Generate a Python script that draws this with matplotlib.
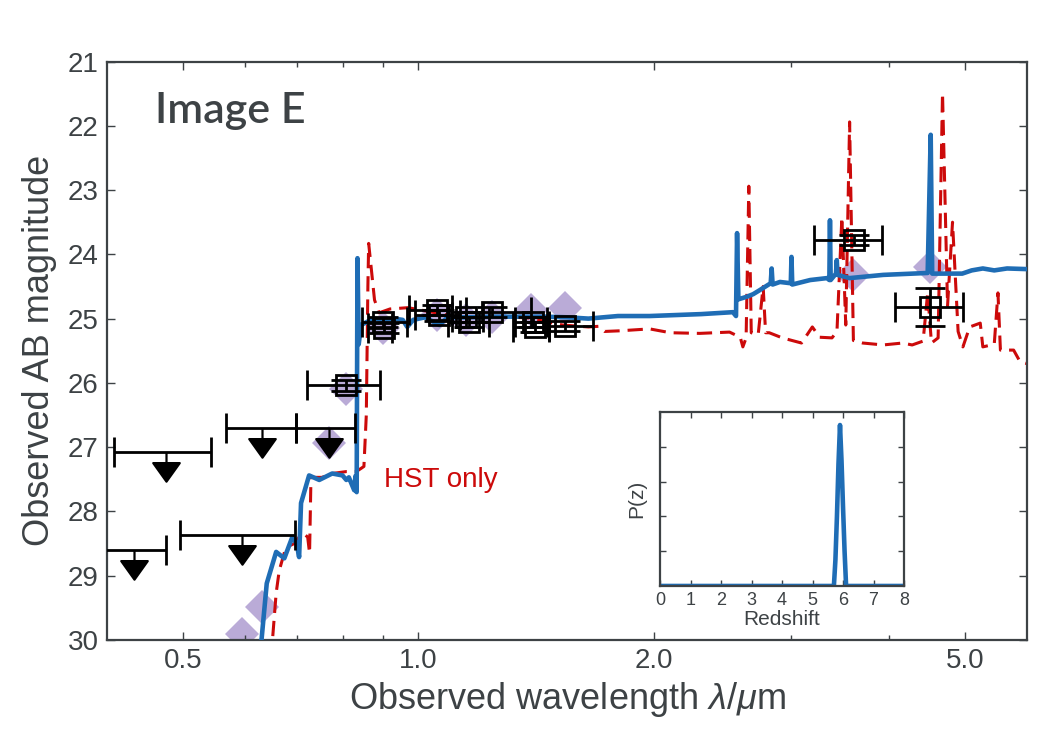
import matplotlib
matplotlib.use("Agg")
import matplotlib.pyplot as plt
from matplotlib.path import Path
from matplotlib.ticker import FixedLocator, FixedFormatter, NullFormatter

# SED of image E: photometry, upper limits, best-fit templates and P(z) inset

# upper limits (1 sigma), wavelength band edges in micron
ul_wave = [0.476, 0.433, 0.595, 0.631, 0.769]
ul_lo = [0.408, 0.390, 0.496, 0.568, 0.698]
ul_hi = [0.543, 0.476, 0.696, 0.698, 0.830]
ul_mag = [27.07, 28.60, 28.36, 26.70, 26.70]

# detections
det_wave = [0.809, 0.900, 0.905, 1.057, 1.062, 1.152, 1.160, 1.244, 1.400, 1.410, 1.538, 3.61, 4.51]
det_mag = [26.04, 25.05, 25.15, 24.87, 24.95, 24.97, 25.05, 24.90, 25.05, 25.13, 25.12, 23.78, 24.82]
det_lo = [0.721, 0.848, 0.862, 0.974, 0.990, 1.105, 1.090, 1.152, 1.330, 1.320, 1.470, 3.21, 4.07]
det_hi = [0.894, 0.968, 0.926, 1.105, 1.130, 1.210, 1.230, 1.395, 1.460, 1.470, 1.670, 3.92, 4.97]
det_err = [0.08, 0.08, 0.08, 0.08, 0.08, 0.08, 0.08, 0.08, 0.08, 0.08, 0.08, 0.08, 0.30]

# model magnitudes in each band
mod_wave = [0.595, 0.631, 0.769, 0.809, 0.900, 1.057, 1.152, 1.244, 1.395, 1.538, 3.596, 4.51]
mod_mag = [29.90, 29.49, 26.94, 26.10, 25.15, 24.95, 25.02, 24.98, 24.87, 24.84, 24.32, 24.20]

# best-fit template (all data)
blue_wave = [0.628, 0.640, 0.658, 0.674, 0.690, 0.699, 0.704, 0.708, 0.725, 0.747, 0.776,
             0.800, 0.809, 0.815, 0.828, 0.831, 0.834, 0.836, 0.839, 0.845, 0.860, 0.880,
             0.900, 0.930, 0.955, 0.968, 0.985, 1.020, 1.064, 1.090, 1.150, 1.250, 1.350,
             1.450, 1.550, 1.650, 1.800, 1.976, 2.300, 2.525, 2.548, 2.556, 2.566, 2.630,
             2.680, 2.730, 2.822, 2.830, 2.838, 2.900, 2.994, 3.000, 3.007, 3.170, 3.330,
             3.354, 3.360, 3.367, 3.420, 3.428, 3.436, 3.560, 3.930, 4.480, 4.520, 4.540,
             4.780, 4.960, 5.100, 5.270, 5.450, 5.660, 6.000]
blue_mag = [30.20, 29.12, 28.63, 28.73, 28.40, 28.50, 28.71, 27.87, 27.44, 27.51, 27.41,
            27.44, 27.51, 27.47, 27.67, 27.45, 27.70, 24.06, 25.40, 25.10, 25.05, 25.00,
            25.03, 25.00, 25.02, 25.13, 25.02, 24.98, 25.10, 24.98, 24.98, 24.97, 24.97,
            24.97, 24.98, 25.00, 24.96, 24.96, 24.93, 24.90, 24.96, 23.67, 24.70, 24.66,
            24.62, 24.56, 24.45, 24.22, 24.47, 24.43, 24.45, 24.04, 24.47, 24.40, 24.37,
            24.40, 23.47, 24.40, 24.30, 24.09, 24.32, 24.37, 24.32, 24.29, 22.14, 24.30,
            24.30, 24.30, 24.25, 24.22, 24.25, 24.22, 24.23]

# best-fit template (HST only)
red_wave = [0.648, 0.658, 0.664, 0.677, 0.694, 0.704, 0.713, 0.722, 0.726, 0.729, 0.753,
            0.776, 0.809, 0.833, 0.845, 0.852, 0.858, 0.862, 0.864, 0.872, 0.879, 0.891,
            0.920, 0.970, 1.064, 1.140, 1.258, 1.387, 1.460, 1.530, 1.650, 1.700, 1.730,
            1.810, 1.976, 2.100, 2.290, 2.500, 2.580, 2.600, 2.625, 2.646, 2.665, 2.720,
            2.760, 2.780, 2.810, 2.920, 3.090, 3.190, 3.260, 3.380, 3.430, 3.480, 3.520,
            3.560, 3.600, 3.700, 3.930, 4.160, 4.280, 4.420, 4.480, 4.530, 4.620, 4.680,
            4.750, 4.820, 4.900, 4.970, 5.070, 5.230, 5.270, 5.450, 5.510, 5.550, 5.770,
            5.880, 6.000]
red_mag = [30.30, 29.27, 28.92, 28.56, 28.50, 28.40, 28.34, 28.40, 28.65, 27.47, 27.47,
           27.41, 27.38, 27.38, 27.33, 27.30, 26.50, 24.50, 23.83, 24.30, 24.71, 24.91,
           24.85, 24.83, 24.92, 24.99, 24.97, 24.99, 25.05, 25.10, 25.13, 25.12, 25.20,
           25.19, 25.16, 25.22, 25.23, 25.21, 25.29, 25.44, 25.30, 22.94, 25.22, 25.25,
           24.50, 25.22, 25.22, 25.30, 25.38, 25.13, 25.29, 25.30, 25.20, 23.42, 25.10,
           21.94, 25.34, 25.38, 25.41, 25.38, 25.41, 25.35, 24.60, 25.38, 25.30, 21.49,
           24.80, 23.50, 25.20, 25.44, 25.13, 25.07, 25.44, 25.40, 24.60, 25.49, 25.49,
           25.67, 25.70]

# photometric redshift probability
z_grid = [0.0, 5.70, 5.75, 5.80, 5.85, 5.90, 5.95, 6.00, 6.05, 6.10, 8.0]
p_z = [0.0, 0.0, 0.15, 0.40, 0.70, 0.925, 0.72, 0.45, 0.20, 0.0, 0.0]

plt.rcParams['font.family'] = ['Liberation Sans', 'DejaVu Sans']
plt.rcParams['mathtext.fontset'] = 'custom'
plt.rcParams['mathtext.it'] = 'Liberation Sans:italic'
plt.rcParams['mathtext.rm'] = 'Liberation Sans'

grey = '#3d4245'
blue = '#1f6db5'
red = '#cc0a0a'

fig = plt.figure(figsize=(10.5, 7.5), dpi=100)
ax = fig.add_axes([0.102, 0.1467, 0.876, 0.7713])

ax.plot(mod_wave, mod_mag, 'D', ms=17, color='#8c74bd', alpha=0.6, mew=0, zorder=1)
ax.plot(red_wave, red_mag, color=red, lw=2.2, dashes=(5, 2.6), zorder=2)
ax.plot(blue_wave, blue_mag, color=blue, lw=3.3, zorder=3)

# upper limit marker: stub going down from the band bar, then a filled triangle
ul_path = Path([(0, 0), (0, -0.8), (-1, -0.8), (1, -0.8), (0, -2.2), (-1, -0.8)],
               [Path.MOVETO, Path.LINETO, Path.MOVETO, Path.LINETO, Path.LINETO, Path.CLOSEPOLY])
ul_xerr = [[w - l for w, l in zip(ul_wave, ul_lo)], [h - w for w, h in zip(ul_wave, ul_hi)]]
ax.errorbar(ul_wave, ul_mag, xerr=ul_xerr, fmt='none', ecolor='k', elinewidth=2,
            capsize=11, capthick=2, zorder=4)
ax.plot(ul_wave, ul_mag, ls='none', marker=ul_path, ms=42, color='k', mec='k', mew=1.6, zorder=4)

det_xerr = [[w - l for w, l in zip(det_wave, det_lo)], [h - w for w, h in zip(det_wave, det_hi)]]
ax.errorbar(det_wave, det_mag, xerr=det_xerr, yerr=det_err, fmt='s', ms=15, mfc='none',
            mec='k', mew=2, ecolor='k', elinewidth=2, capsize=11, capthick=2, zorder=5)

ax.set_xscale('log')
ax.set_xlim(0.4, 6.0)
ax.set_ylim(30, 21)
ax.xaxis.set_major_locator(FixedLocator([0.5, 1.0, 2.0, 5.0]))
ax.xaxis.set_major_formatter(FixedFormatter(['0.5', '1.0', '2.0', '5.0']))
ax.xaxis.set_minor_locator(FixedLocator([0.6, 0.7, 0.8, 0.9, 3.0, 4.0]))
ax.xaxis.set_minor_formatter(NullFormatter())
ax.set_yticks(range(21, 31))
ax.tick_params(which='both', direction='in', top=True, right=True, color=grey,
               labelcolor=grey, labelsize=20, pad=6)
ax.tick_params(which='major', length=6, width=1)
ax.tick_params(which='minor', length=3.5, width=1)
for s in ax.spines.values():
    s.set_color(grey)
    s.set_linewidth(1.6)

ax.set_xlabel(r'Observed wavelength $\lambda/\mu$m', fontsize=26, color=grey, labelpad=4)
ax.set_ylabel('Observed AB magnitude', fontsize=26, color=grey, labelpad=8)

ax.text(0.052, 0.894, 'Image E', transform=ax.transAxes, fontsize=31, color=grey,
        family=['Lato', 'DejaVu Sans'], fontweight='semibold', ha='left', va='baseline')
ax.text(0.905, 27.62, 'HST only', fontsize=20, color=red, ha='left', va='baseline')

# inset: P(z)
ins = fig.add_axes([0.6286, 0.2187, 0.2324, 0.232])
ins.plot(z_grid, p_z, color=blue, lw=3.3)
ins.set_xlim(0, 8)
ins.set_ylim(0, 1)
ins.set_xticks(range(0, 9))
ins.set_yticks([0.2, 0.4, 0.6, 0.8])
ins.set_yticklabels([])
ins.tick_params(direction='in', top=True, right=True, color=grey, labelcolor=grey,
                labelsize=13, length=4, width=1, pad=4)
for s in ins.spines.values():
    s.set_color(grey)
    s.set_linewidth(1.6)
ins.set_xlabel('Redshift', fontsize=15, color=grey, labelpad=1)
ins.set_ylabel('P(z)', fontsize=15, color=grey, labelpad=6)

fig.savefig('out.png', dpi=100)
